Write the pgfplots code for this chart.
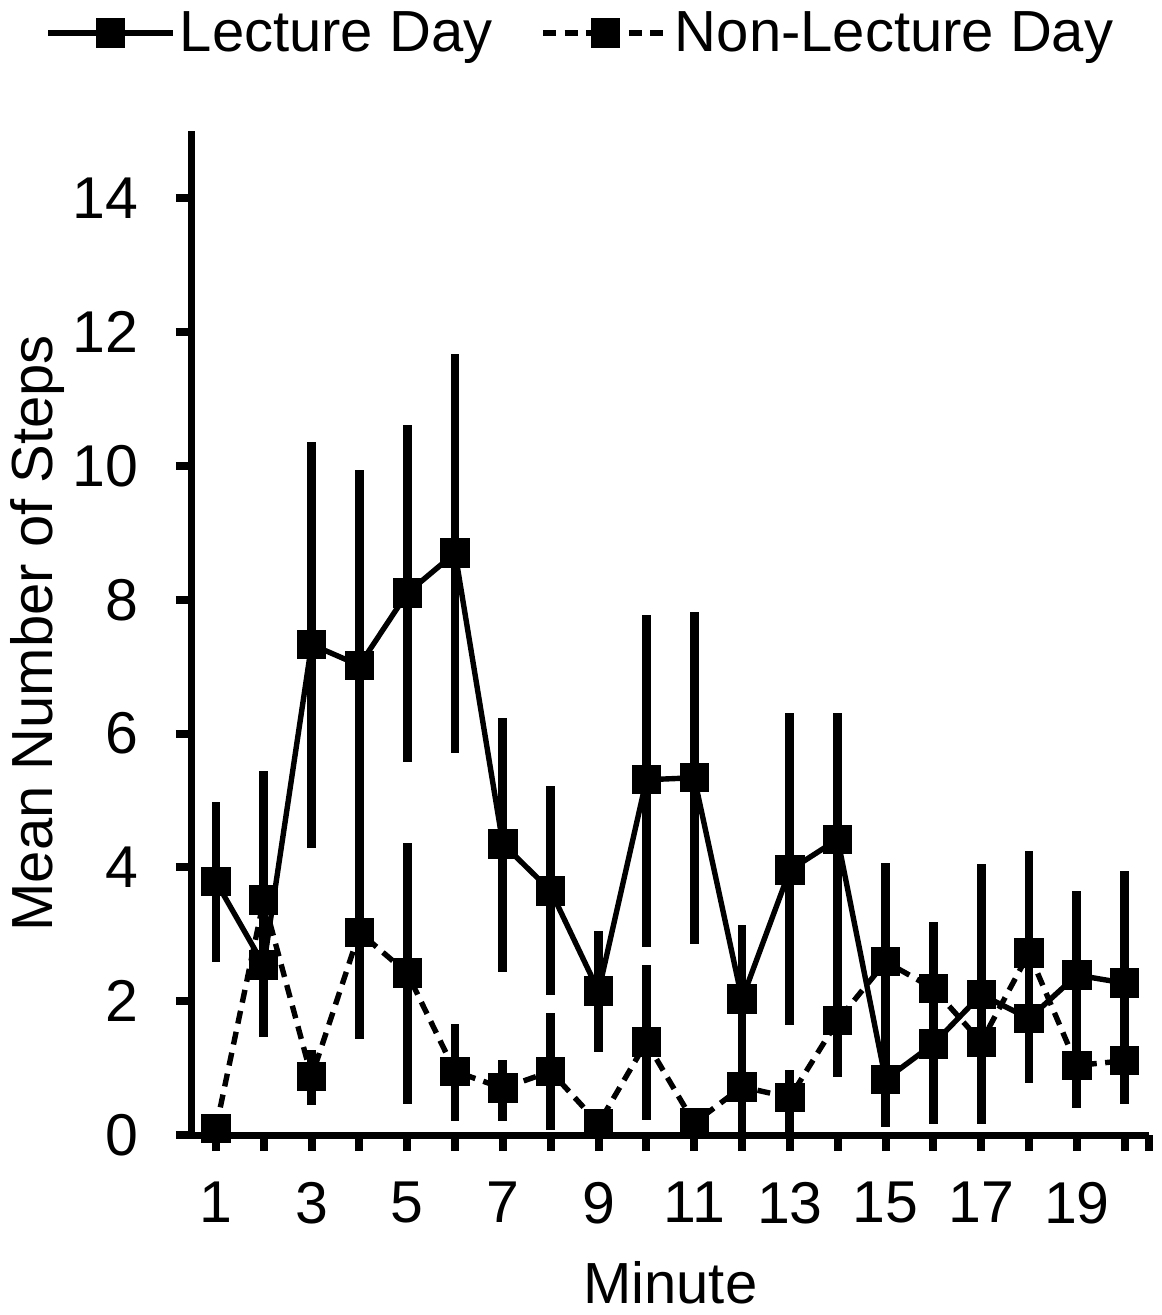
\documentclass[border=0pt]{standalone}
\usepackage{pgfplots}
\usepackage{pgfplotstable}
\pgfplotsset{compat=1.18}
\usepackage{fontspec}
\setmainfont{Liberation Sans}

\pgfplotstableread{
x y ep em
1 3.79 1.19 1.21
2 2.54 1.07 1.07
3 7.33 3.03 3.04
4 7.02 2.92 2.92
5 8.10 2.51 2.53
6 8.70 2.97 2.99
7 4.35 1.89 1.92
8 3.65 1.57 1.55
9 2.15 0.90 0.91
10 5.31 2.47 2.50
11 5.34 2.48 2.49
12 2.03 1.11 1.11
13 3.96 2.35 2.32
14 4.42 1.89 1.89
15 0.83 0.71 0.71
16 1.36 1.20 1.20
17 2.10 1.95 1.94
18 1.74 0.96 0.96
19 2.39 1.26 1.26
20 2.27 1.67 1.67
}\lecture

\pgfplotstableread{
x y ep em
1 0.10 0.08 0.08
2 3.51 1.93 1.95
3 0.87 0.40 0.42
4 3.03 1.60 1.60
5 2.42 1.95 1.96
6 0.95 0.71 0.74
7 0.70 0.42 0.49
8 0.95 0.87 0.88
9 0.17 0.10 0.10
10 1.39 1.15 1.17
11 0.18 0.10 0.10
12 0.72 0.60 0.72
13 0.56 0.41 0.56
14 1.71 0.84 0.84
15 2.59 1.48 1.48
16 2.19 0.99 0.99
17 1.39 0.80 0.80
18 2.72 1.53 1.53
19 1.04 0.64 0.64
20 1.11 0.64 0.64
}\nonlecture

\begin{document}
\begin{tikzpicture}
\path (-96pt,-90pt) rectangle (484.5pt,567.5pt);
\begin{axis}[
  scale only axis,
  width=478.3pt, height=501.75pt,
  xmin=0.5, xmax=20.5,
  ymin=0, ymax=15,
  axis lines=left,
  axis line style={line width=3.5pt, -},
  clip=false,
  tick align=outside,
  major tick length=8pt,
  tick style={line width=4pt, black},
  xtick={1,...,20},
  xticklabels={1,,3,,5,,7,,9,,11,,13,,15,,17,,19,},
  extra x ticks={20.5},
  extra x tick labels={},
  ytick={0,2,...,14},
  /pgf/number format/assume math mode=true,
  ticklabel style={font=\fontsize{29.5}{32}\selectfont},
  xticklabel style={inner sep=0pt, anchor=north, yshift=-15.5pt},
  yticklabel style={inner sep=0pt, anchor=east, xshift=-18.5pt},
  xlabel={Minute},
  ylabel={Mean Number of Steps},
  label style={font=\fontsize{29}{32}\selectfont},
  xlabel style={at={(axis description cs:0.5,-0.168)}, anchor=base, inner sep=0pt},
  ylabel style={at={(axis description cs:-0.146,0.5)}, anchor=base, inner sep=0pt},
  legend columns=2,
  legend style={draw=none, fill=none, at={(axis description cs:-0.1537,1.098)}, anchor=west,
    inner sep=0pt, font=\fontsize{29}{32}\selectfont,
    /tikz/every even column/.append style={column sep=22pt}},
  legend image code/.code={\draw[mark repeat=2, mark phase=2, #1] plot coordinates {(0pt,0pt) (31.25pt,0pt) (62.5pt,0pt)};},
]
\addplot[black, line width=2.7pt, mark=square*, mark size=6pt, mark options={solid},
  error bars/.cd, y dir=both, y explicit, error mark=none,
  error bar style={line width=4.4pt, solid}]
  table[x=x, y=y, y error plus=ep, y error minus=em] {\lecture};
\addlegendentry{Lecture Day}
\addplot[black, line width=2.7pt, dash pattern=on 6.5pt off 4.2pt, mark=square*, mark size=6pt, mark options={solid},
  error bars/.cd, y dir=both, y explicit, error mark=none,
  error bar style={line width=4.4pt, solid}]
  table[x=x, y=y, y error plus=ep, y error minus=em] {\nonlecture};
\addlegendentry{Non-Lecture Day}
\end{axis}
\end{tikzpicture}
\end{document}
